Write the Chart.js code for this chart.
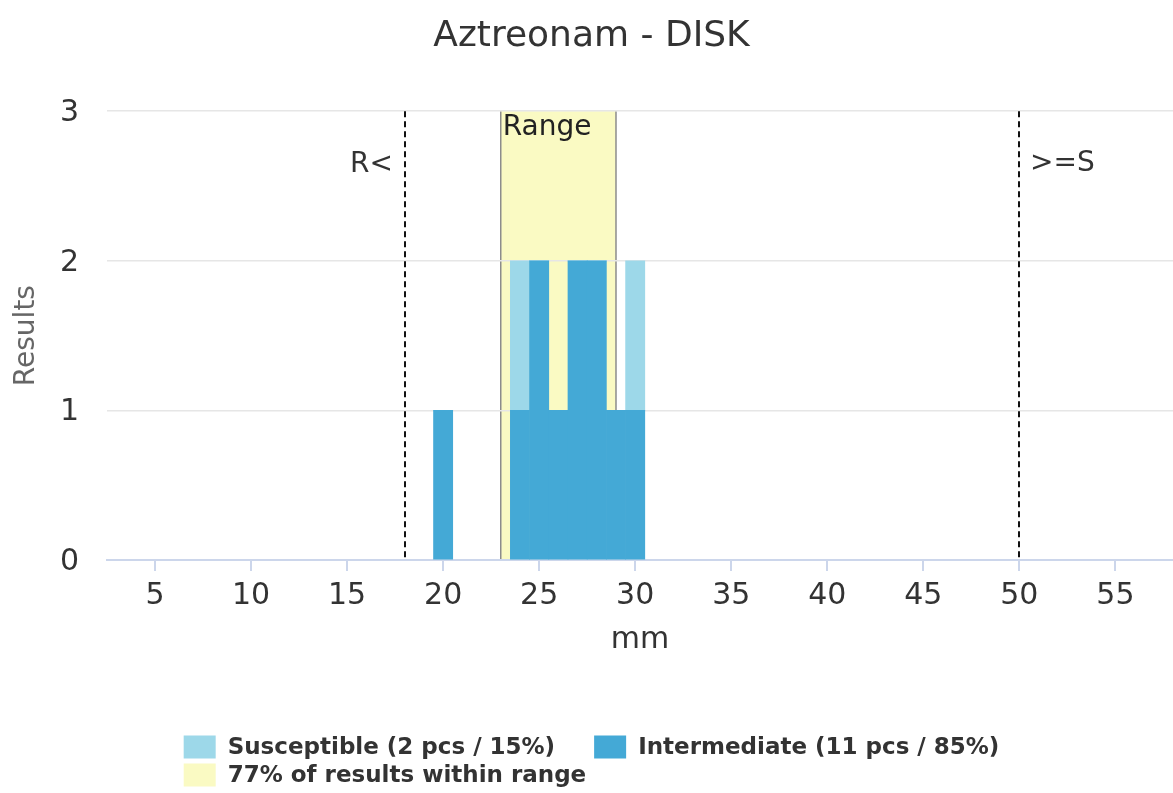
<!DOCTYPE html>
<html>
<head>
<meta charset="utf-8">
<script src="https://cdn.jsdelivr.net/npm/chart.js@4.4.1/dist/chart.umd.min.js"></script>
<style>
html, body { margin: 0; padding: 0; background: #fff; }
canvas { display: block; }
</style>
</head>
<body>
<canvas id="c" width="1173" height="793"></canvas>
<script>
// ---- data ----
const chartTitle = 'Aztreonam - DISK';
const mmValues = [20, 24, 25, 26, 27, 28, 29, 30];
const intermediateCounts = [1, 1, 2, 1, 2, 2, 1, 1];
const susceptibleCounts = [0, 1, 0, 0, 0, 0, 0, 1];
const xTicks = [5, 10, 15, 20, 25, 30, 35, 40, 45, 50, 55];
const yTicks = [0, 1, 2, 3];
const xLimits = [2.5, 58];
const yLimits = [0, 3];
const seriesLabels = ['Susceptible (2 pcs / 15%)', 'Intermediate (11 pcs / 85%)', '77% of results within range'];
const rangeBounds = [23, 29];
const rangeLabel = 'Range';
const breakpointValues = [18, 50];
const breakpointLabels = ['R<', '>=S'];
const xTitle = 'mm';
const yTitle = 'Results';

// ---- styles ----
const FONT = '"DejaVu Sans", Verdana, sans-serif';
const COL_SUS = '#9dd8e9';
const COL_INT = '#44a9d6';
const COL_RANGE = '#fafac3';
const TEXT = '#333333';

Chart.defaults.font.family = FONT;

const rangePlugin = {
  id: 'rangeBand',
  beforeDraw(chart) {
    const { ctx, scales: { x, y } } = chart;
    const x0 = x.getPixelForValue(rangeBounds[0]);
    const x1 = x.getPixelForValue(rangeBounds[1]);
    const yT = y.getPixelForValue(yLimits[1]);
    const yB = y.getPixelForValue(yLimits[0]);
    ctx.save();
    ctx.fillStyle = COL_RANGE;
    ctx.fillRect(x0, yT, x1 - x0, yB - yT);
    ctx.strokeStyle = '#8c8c8c';
    ctx.lineWidth = 1.5;
    ctx.beginPath();
    ctx.moveTo(x0, yT); ctx.lineTo(x0, yB);
    ctx.moveTo(x1, yT); ctx.lineTo(x1, yB);
    ctx.stroke();
    ctx.restore();
  },
  afterDatasetsDraw(chart) {
    const { ctx, scales: { x, y } } = chart;
    const yT = y.getPixelForValue(yLimits[1]);
    const yB = y.getPixelForValue(yLimits[0]);
    ctx.save();
    // range label
    ctx.fillStyle = '#222';
    ctx.font = '28px ' + FONT;
    ctx.textBaseline = 'alphabetic';
    ctx.textAlign = 'left';
    ctx.fillText(rangeLabel, x.getPixelForValue(rangeBounds[0]) + 2, yT + 24);
    // breakpoints
    ctx.strokeStyle = '#111';
    ctx.lineWidth = 2;
    ctx.setLineDash([6, 4]);
    breakpointValues.forEach((v, i) => {
      const px = Math.round(x.getPixelForValue(v));
      ctx.beginPath();
      ctx.moveTo(px, yT);
      ctx.lineTo(px, yB);
      ctx.stroke();
      ctx.fillStyle = TEXT;
      ctx.font = '28px ' + FONT;
      if (i === 0) {
        ctx.textAlign = 'right';
        ctx.fillText(breakpointLabels[i], px - 12, yT + 61);
      } else {
        ctx.textAlign = 'left';
        ctx.fillText(breakpointLabels[i], px + 11, yT + 60);
      }
    });
    ctx.restore();
  }
};

const legendPlugin = {
  id: 'customLegend',
  afterDraw(chart) {
    const { ctx } = chart;
    const colors = [COL_SUS, COL_INT, COL_RANGE];
    const symW = 32, symH = 23, gap = 12, itemDist = 39;
    ctx.save();
    ctx.font = 'bold 23px ' + FONT;
    const widths = seriesLabels.map(t => ctx.measureText(t).width);
    const item0 = symW + gap + widths[0];
    const item1 = symW + gap + widths[1];
    const rowW = item0 + itemDist + item1;
    const center = (chart.width + 10) / 2;
    const left = center - rowW / 2;
    const rows = [747, 775];
    const pos = [
      [left, rows[0]],
      [left + item0 + itemDist, rows[0]],
      [left, rows[1]]
    ];
    ctx.textBaseline = 'middle';
    ctx.textAlign = 'left';
    seriesLabels.forEach((t, i) => {
      const [px, py] = pos[i];
      ctx.fillStyle = colors[i];
      ctx.fillRect(px, py - symH / 2, symW, symH);
      ctx.fillStyle = TEXT;
      ctx.fillText(t, px + symW + gap, py + 1);
    });
    ctx.restore();
  }
};

new Chart(document.getElementById('c'), {
  type: 'bar',
  data: {
    datasets: [
      {
        label: seriesLabels[1],
        data: mmValues.map((v, i) => ({ x: v, y: intermediateCounts[i] })),
        backgroundColor: COL_INT,
        borderWidth: 0,
        barPercentage: 1,
        categoryPercentage: 1
      },
      {
        label: seriesLabels[0],
        data: mmValues.map((v, i) => ({ x: v, y: susceptibleCounts[i] })),
        backgroundColor: COL_SUS,
        borderWidth: 0,
        barPercentage: 1,
        categoryPercentage: 1
      }
    ]
  },
  options: {
    responsive: false,
    devicePixelRatio: 1,
    animation: false,
    layout: { padding: { top: 0, left: 0, right: -10, bottom: 133 } },
    plugins: {
      legend: { display: false },
      tooltip: { enabled: false },
      title: {
        display: true,
        text: chartTitle,
        color: TEXT,
        font: { family: FONT, size: 36, weight: 'normal' },
        padding: { top: 15, bottom: 53 }
      }
    },
    scales: {
      x: {
        type: 'linear',
        stacked: true,
        offset: false,
        min: xLimits[0],
        max: xLimits[1],
        afterBuildTicks(scale) { scale.ticks = xTicks.map(v => ({ value: v })); },
        afterFit(scale) { scale.height = 100; },
        grid: { display: true, drawOnChartArea: false, drawTicks: true, tickLength: 11, color: '#ccd6eb', lineWidth: 2, offset: false },
        border: { display: true, color: '#ccd6eb', width: 2 },
        ticks: { autoSkip: false, maxRotation: 0, color: TEXT, padding: 7, font: { size: 30 } },
        title: { display: true, text: xTitle, color: TEXT, font: { size: 30 }, padding: { top: 0, bottom: 2 } }
      },
      y: {
        stacked: true,
        min: yLimits[0],
        max: yLimits[1],
        afterBuildTicks(scale) { scale.ticks = yTicks.map(v => ({ value: v })); },
        afterFit(scale) { scale.width = 107; },
        grid: { color: '#e6e6e6', lineWidth: 1.5, drawTicks: false },
        border: { display: false },
        ticks: { color: TEXT, padding: 28, labelOffset: 2, font: { size: 30 } },
        title: { display: true, text: yTitle, color: '#666666', font: { size: 28 }, padding: { top: 10, bottom: 0 } }
      }
    }
  },
  plugins: [rangePlugin, legendPlugin]
});
</script>
</body>
</html>
